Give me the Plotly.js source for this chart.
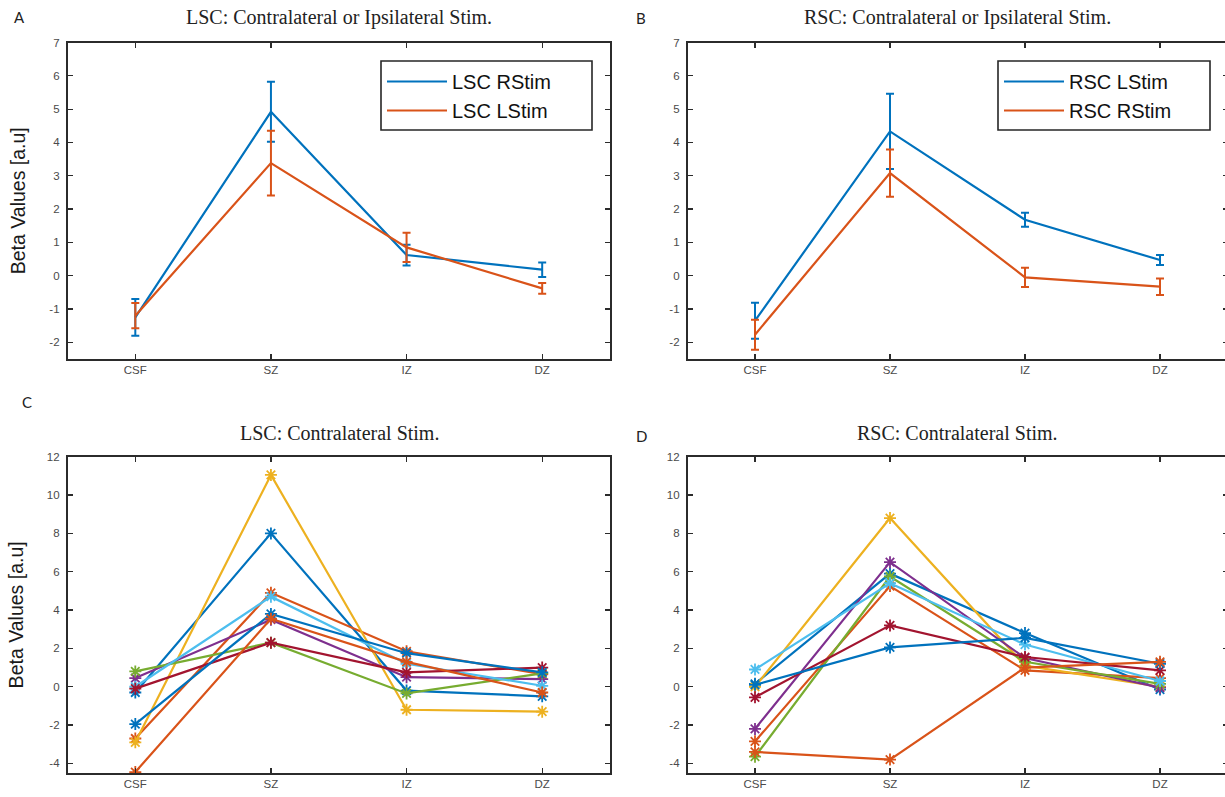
<!DOCTYPE html>
<html>
<head>
<meta charset="utf-8">
<script src="https://cdn.plot.ly/plotly-3.0.1.min.js"></script>
<style>
html,body{margin:0;padding:0;overflow:hidden;background:#fff;width:1225px;height:797px;}
#plot{width:1232px;height:797px;}
</style>
</head>
<body>
<div id="plot"></div>
<script>
// ---- data ----
const regions = ['CSF', 'SZ', 'IZ', 'DZ'];

// y tick labels (hyphen minus as in the original figure)
const topTickVals = [-2, -1, 0, 1, 2, 3, 4, 5, 6, 7];
const topTickText = ['-2', '-1', '0', '1', '2', '3', '4', '5', '6', '7'];
const bottomTickVals = [-4, -2, 0, 2, 4, 6, 8, 10, 12];
const bottomTickText = ['-4', '-2', '0', '2', '4', '6', '8', '10', '12'];

// Panel A: LSC
const lscRStim = [-1.25, 4.92, 0.62, 0.18];
const lscRStimErr = [0.55, 0.90, 0.31, 0.22];
const lscLStim = [-1.20, 3.38, 0.85, -0.38];
const lscLStimErr = [0.38, 0.97, 0.44, 0.16];

// Panel B: RSC
const rscLStim = [-1.35, 4.33, 1.68, 0.47];
const rscLStimErr = [0.54, 1.13, 0.21, 0.15];
const rscRStim = [-1.77, 3.08, -0.05, -0.33];
const rscRStimErr = [0.45, 0.71, 0.29, 0.25];

// Panel C: LSC contralateral, individual subjects
const lscSubj1 = [-0.30, 8.00, -0.20, -0.50];
const lscSubj2 = [-2.70, 4.90, 1.85, 0.65];
const lscSubj3 = [-2.90, 11.05, -1.20, -1.30];
const lscSubj4 = [0.45, 3.50, 0.50, 0.40];
const lscSubj5 = [0.80, 2.30, -0.35, 0.70];
const lscSubj6 = [0.00, 4.70, 1.20, 0.05];
const lscSubj7 = [-0.10, 2.30, 0.75, 1.00];
const lscSubj8 = [-1.95, 3.80, 1.75, 0.75];
const lscSubj9 = [-4.45, 3.55, 1.30, -0.30];

// Panel D: RSC contralateral, individual subjects
const rscSubj1 = [0.15, 5.90, 2.80, -0.15];
const rscSubj2 = [-2.85, 5.25, 0.85, 0.45];
const rscSubj3 = [0.00, 8.80, 1.10, 0.00];
const rscSubj4 = [-2.20, 6.50, 1.50, -0.05];
const rscSubj5 = [-3.65, 5.75, 1.30, 0.15];
const rscSubj6 = [0.90, 5.40, 2.20, 0.30];
const rscSubj7 = [-0.55, 3.20, 1.55, 0.85];
const rscSubj8 = [0.10, 2.05, 2.55, 1.20];
const rscSubj9 = [-3.40, -3.80, 1.00, 1.30];

// ---- styling ----
const C = ['#0072BD', '#D95319', '#EDB120', '#7E2F8E', '#77AC30', '#4DBEEE', '#A2142F'];
const W = 1232, H = 797;

function meanTrace(y, err, color, name, xa, ya, leg, grp) {
  return {
    x: regions, y: y, type: 'scatter', mode: 'lines', name: name,
    xaxis: xa, yaxis: ya, legend: leg, legendgroup: grp,
    line: {color: color, width: 2.2},
    error_y: {type: 'data', array: err, visible: true, color: color, thickness: 2, width: 4}
  };
}
function subjTrace(y, color, xa, ya) {
  return {
    x: regions, y: y, type: 'scatter', mode: 'lines+markers', showlegend: false,
    xaxis: xa, yaxis: ya,
    line: {color: color, width: 2.2},
    marker: {symbol: 'asterisk-open', size: 10, color: color, line: {color: color, width: 1.8}}
  };
}

const traces = [
  meanTrace(lscRStim, lscRStimErr, C[0], 'LSC RStim', 'x', 'y', 'legend', 'a1'),
  meanTrace(lscLStim, lscLStimErr, C[1], 'LSC LStim', 'x', 'y', 'legend', 'a2'),
  meanTrace(rscLStim, rscLStimErr, C[0], 'RSC LStim', 'x2', 'y2', 'legend2', 'b1'),
  meanTrace(rscRStim, rscRStimErr, C[1], 'RSC RStim', 'x2', 'y2', 'legend2', 'b2')
];
const lscSubjects = [lscSubj1, lscSubj2, lscSubj3, lscSubj4, lscSubj5, lscSubj6, lscSubj7, lscSubj8, lscSubj9];
const rscSubjects = [rscSubj1, rscSubj2, rscSubj3, rscSubj4, rscSubj5, rscSubj6, rscSubj7, rscSubj8, rscSubj9];
lscSubjects.forEach((s, i) => traces.push(subjTrace(s, C[i % 7], 'x3', 'y3')));
rscSubjects.forEach((s, i) => traces.push(subjTrace(s, C[i % 7], 'x4', 'y4')));

const axisLine = '#2b2b2b';
const tickFont = {family: 'Liberation Sans, Arial, sans-serif', size: 11.5, color: '#4a4a4a'};
function xAxis(domain, anchor) {
  return {
    domain: domain, anchor: anchor, type: 'category', range: [-0.5, 3.5],
    showline: true, linecolor: axisLine, linewidth: 1.6, mirror: 'ticks',
    ticks: 'inside', ticklen: 5, tickwidth: 1.2, tickcolor: axisLine,
    showgrid: false, zeroline: false, tickfont: tickFont, fixedrange: true
  };
}
function yAxis(domain, anchor, range, vals, text, title) {
  const a = {
    domain: domain, anchor: anchor, range: range,
    tickmode: 'array', tickvals: vals, ticktext: text,
    showline: true, linecolor: axisLine, linewidth: 1.6, mirror: 'ticks',
    ticks: 'inside', ticklen: 5, tickwidth: 1.2, tickcolor: axisLine,
    ticklabelstandoff: 4,
    showgrid: false, zeroline: false, tickfont: tickFont, fixedrange: true
  };
  if (title) a.title = {text: title, font: {family: 'Liberation Sans, Arial, sans-serif', size: 19.5, color: '#1a1a1a'}, standoff: 18};
  return a;
}

const dxL = [67.5 / W, 610 / W];
const dxR = [687.5 / W, 1227.5 / W];
const dyT = [1 - 359 / H, 1 - 42.5 / H];
const dyB = [1 - 773 / H, 1 - 456.7 / H];

const titleFont = {family: 'Liberation Serif, Times New Roman, serif', size: 20, color: '#222'};
const letterFont = {family: 'Lato, Open Sans, sans-serif', size: 15, color: '#222'};
function ann(text, px, py, font) {
  return {text: text, x: px / W, y: 1 - py / H, xref: 'paper', yref: 'paper',
    showarrow: false, xanchor: 'center', yanchor: 'middle', font: font};
}
function legendBox(x0, y0, x1, y1) {
  return {type: 'rect', xref: 'paper', yref: 'paper', layer: 'above',
    x0: x0 / W, x1: x1 / W, y0: 1 - y1 / H, y1: 1 - y0 / H,
    line: {color: '#262626', width: 1.6}, fillcolor: '#ffffff'};
}

const legendBase = {
  bgcolor: 'rgba(0,0,0,0)', borderwidth: 0,
  font: {family: 'Liberation Sans, Arial, sans-serif', size: 20, color: '#111'},
  xanchor: 'left', yanchor: 'top', traceorder: 'grouped', tracegroupgap: 0,
  itemwidth: 60
};

const layout = {
  width: W, height: H,
  margin: {l: 0, r: 0, t: 0, b: 0},
  paper_bgcolor: '#fff', plot_bgcolor: '#fff',
  xaxis: xAxis(dxL, 'y'),
  yaxis: yAxis(dyT, 'x', [-2.5, 7], topTickVals, topTickText, 'Beta Values [a.u]'),
  xaxis2: xAxis(dxR, 'y2'),
  yaxis2: yAxis(dyT, 'x2', [-2.5, 7], topTickVals, topTickText, null),
  xaxis3: xAxis(dxL, 'y3'),
  yaxis3: yAxis(dyB, 'x3', [-4.5, 12], bottomTickVals, bottomTickText, 'Beta Values [a.u]'),
  xaxis4: xAxis(dxR, 'y4'),
  yaxis4: yAxis(dyB, 'x4', [-4.5, 12], bottomTickVals, bottomTickText, null),
  legend: Object.assign({}, legendBase, {x: 382 / W, y: 1 - 62 / H}),
  legend2: Object.assign({}, legendBase, {x: 999 / W, y: 1 - 62 / H}),
  shapes: [legendBox(381, 61, 592, 130), legendBox(998, 61, 1210, 130)],
  annotations: [
    ann('LSC: Contralateral or Ipsilateral Stim.', 339, 17, titleFont),
    ann('RSC: Contralateral or Ipsilateral Stim.', 957.5, 17, titleFont),
    ann('LSC: Contralateral Stim.', 339, 433, titleFont),
    ann('RSC: Contralateral Stim.', 957.5, 433, titleFont),
    ann('A', 19, 17, letterFont),
    ann('B', 641, 18, letterFont),
    ann('C', 27, 402, letterFont),
    ann('D', 641, 436, letterFont)
  ],
  showlegend: true
};

Plotly.newPlot('plot', traces, layout, {displayModeBar: false, staticPlot: true});
</script>
</body>
</html>
